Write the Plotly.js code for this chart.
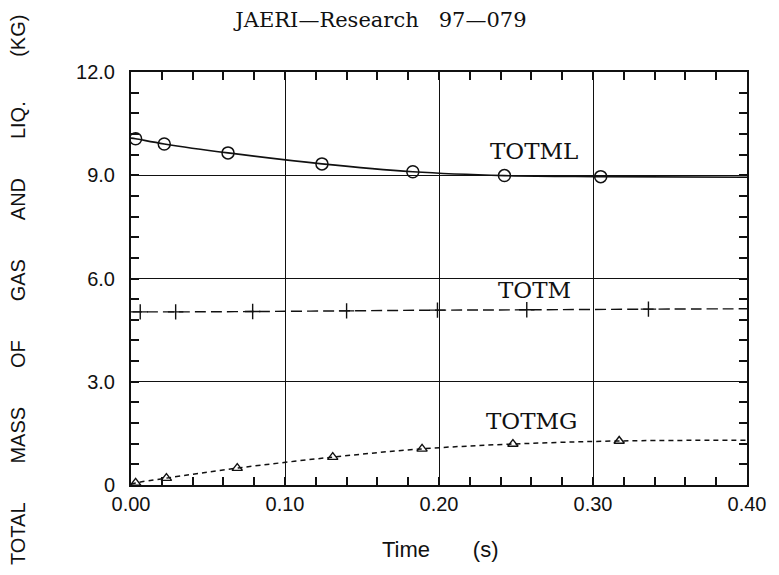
<!DOCTYPE html>
<html>
<head>
<meta charset="utf-8">
<script src="https://cdn.plot.ly/plotly-3.0.1.min.js"></script>
</head>
<body style="margin:0">
<div id="chart" style="width:779px;height:575px"></div>
<script>
// Total liquid mass (TOTML): smooth curve and plotted symbols
const totmlCurveT = [0.000, 0.003, 0.0216, 0.063, 0.124, 0.183, 0.2425, 0.305, 0.400];
const totmlCurveV = [10.08, 10.06, 9.91, 9.65, 9.33, 9.10, 8.99, 8.96, 8.94];
const totmlMarkT  = [0.003, 0.0216, 0.063, 0.124, 0.183, 0.2425, 0.305];
const totmlMarkV  = [10.06, 9.91, 9.65, 9.33, 9.10, 8.99, 8.96];

// Total mass (TOTM)
const totmCurveT = [0.000, 0.006, 0.029, 0.079, 0.140, 0.199, 0.257, 0.336, 0.400];
const totmCurveV = [5.03, 5.03, 5.03, 5.04, 5.06, 5.08, 5.09, 5.11, 5.12];
const totmMarkT  = [0.006, 0.029, 0.079, 0.140, 0.199, 0.257, 0.336];
const totmMarkV  = [5.03, 5.03, 5.04, 5.06, 5.08, 5.09, 5.11];

// Total gas mass (TOTMG)
const totmgCurveT = [0.000, 0.003, 0.023, 0.069, 0.131, 0.189, 0.248, 0.317, 0.400];
const totmgCurveV = [0.02, 0.06, 0.20, 0.49, 0.81, 1.05, 1.19, 1.28, 1.30];
const totmgMarkT  = [0.003, 0.023, 0.069, 0.131, 0.189, 0.248, 0.317];
const totmgMarkV  = [0.06, 0.20, 0.49, 0.81, 1.05, 1.19, 1.28];

// Axis ticks
const xTickVals = [0, 0.1, 0.2, 0.3, 0.4];
const xTickText = ["0.00", "0.10", "0.20", "0.30", "0.40"];
const yTickVals = [0, 3, 6, 9, 12];
const yTickText = ["0", "3.0", "6.0", "9.0", "12.0"];
const xMinorStep = 0.02;
const yMinorStep = 0.6;

// Curve name labels and where they sit
const curveNames  = ["TOTML", "TOTM", "TOTMG"];
const curveLabelT = [0.262, 0.262, 0.260];
const curveLabelV = [9.71, 5.67, 1.86];

const ink = "#111";
const sans = "Liberation Sans, Arial, sans-serif";
const serif = "DejaVu Serif, Liberation Serif, serif";

// map the default formatted labels onto the wanted tick texts
function aliasFor(vals, texts, decimals) {
  const out = {};
  vals.forEach((v, i) => { out[v.toFixed(decimals)] = texts[i]; });
  return out;
}

const traces = [
  { x: totmlCurveT, y: totmlCurveV, mode: "lines", line: { color: ink, width: 1.6, shape: "spline" } },
  { x: totmlMarkT, y: totmlMarkV, mode: "markers",
    marker: { symbol: "circle-open", size: 12, color: ink, line: { width: 1.5, color: ink } } },
  { x: totmCurveT, y: totmCurveV, mode: "lines", line: { color: ink, width: 1.4, dash: "11px,5px", shape: "spline" } },
  { x: totmMarkT, y: totmMarkV, mode: "markers",
    marker: { symbol: "cross-thin", size: 11, color: ink, line: { width: 1.4, color: ink } } },
  { x: totmgCurveT, y: totmgCurveV, mode: "lines", line: { color: ink, width: 1.5, dash: "5px,4px", shape: "spline" } },
  { x: totmgMarkT, y: totmgMarkV, mode: "markers",
    marker: { symbol: "triangle-up-open", size: 9, color: ink, line: { width: 1.4, color: ink } } }
];

const annotations = curveNames.map((name, i) => ({
  x: curveLabelT[i], y: curveLabelV[i], xref: "x", yref: "y",
  text: name, showarrow: false,
  font: { family: serif, size: 23, color: ink }
}));

// vertical axis caption with wide word spacing
const gap = "&nbsp;".repeat(7);
annotations.push({
  xref: "paper", yref: "paper", x: -0.1834, y: 0.472,
  xanchor: "center", yanchor: "middle",
  text: ["TOTAL", "MASS", "OF", "GAS", "AND", "LIQ.&nbsp;", "(KG)"].join(gap),
  textangle: -90, showarrow: false,
  font: { family: sans, size: 20, color: ink }
});
annotations.push({
  xref: "paper", yref: "paper", x: 0.503, y: -0.155,
  xanchor: "center", yanchor: "middle",
  text: "Time" + "&nbsp;".repeat(7) + "(s)",
  showarrow: false,
  font: { family: sans, size: 22, color: ink }
});

const layout = {
  width: 779, height: 575,
  margin: { l: 131, r: 32, t: 72, b: 90 },
  showlegend: false,
  title: {
    text: "JAERI—Research&nbsp;&nbsp;&nbsp;97—079",
    xref: "container", yref: "container", x: 0.489, y: 0.965,
    xanchor: "center", yanchor: "middle",
    font: { family: serif, size: 21, color: ink }
  },
  xaxis: {
    range: [0, 0.4], showline: true, mirror: "allticks", linecolor: ink, linewidth: 2,
    ticks: "inside", ticklen: 8, tickwidth: 1.5, tickcolor: ink,
    dtick: xTickVals[1] - xTickVals[0], tickformat: ".2f",
    labelalias: aliasFor(xTickVals, xTickText, 2),
    gridcolor: ink, zerolinecolor: ink,
    tickfont: { family: sans, size: 20, color: ink },
    minor: { ticks: "inside", ticklen: 8, tickcolor: ink, dtick: xMinorStep }
  },
  yaxis: {
    range: [0, 12], showline: true, mirror: "allticks", linecolor: ink, linewidth: 2,
    ticks: "inside", ticklen: 8, tickwidth: 1.5, tickcolor: ink,
    dtick: yTickVals[1] - yTickVals[0], tickformat: ".1f",
    labelalias: aliasFor(yTickVals, yTickText, 1),
    ticklabelstandoff: 10,
    gridcolor: ink, zerolinecolor: ink,
    tickfont: { family: sans, size: 20, color: ink },
    minor: { ticks: "inside", ticklen: 8, tickcolor: ink, dtick: yMinorStep }
  },
  annotations: annotations
};

Plotly.newPlot("chart", traces, layout, { displayModeBar: false });
</script>
</body>
</html>
